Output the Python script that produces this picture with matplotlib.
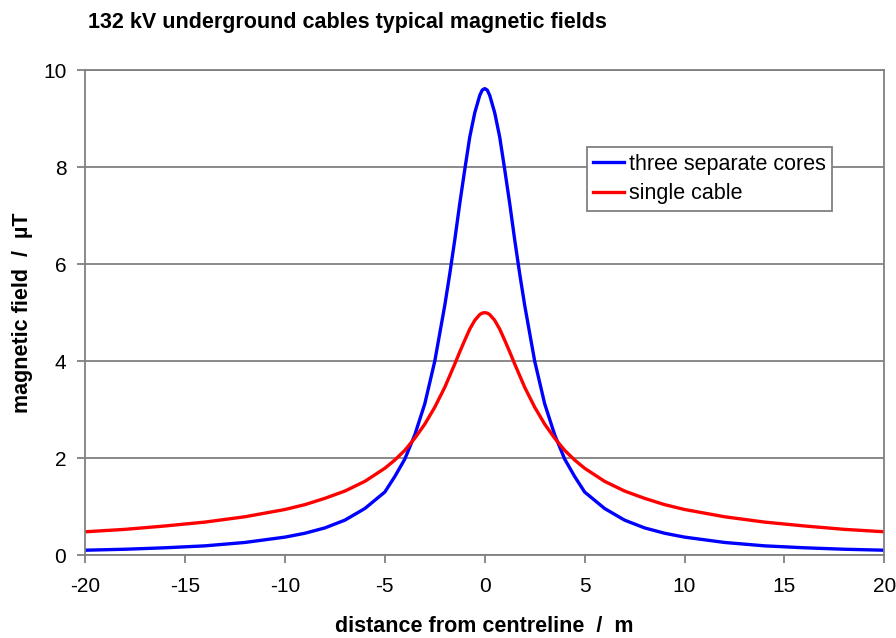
import numpy as np
import matplotlib
matplotlib.use('Agg')
import matplotlib.pyplot as plt

plt.rcParams['font.family'] = ['Liberation Sans', 'DejaVu Sans']
plt.rcParams['axes.unicode_minus'] = False

# distance from centreline (m)
distance = [-20, -18, -16, -14, -12, -10, -9, -8, -7, -6, -5, -4.5, -4, -3.5, -3,
            -2.5, -2, -1.75, -1.5, -1.25, -1, -0.75, -0.5, -0.25, -0.125, 0,
            0.125, 0.25, 0.5, 0.75, 1, 1.25, 1.5, 1.75, 2, 2.5, 3, 3.5, 4, 4.5, 5,
            6, 7, 8, 9, 10, 12, 14, 16, 18, 20]

# three separate cores (uT)
three_cores = [0.10, 0.12, 0.15, 0.19, 0.26, 0.37, 0.45, 0.56, 0.72, 0.96, 1.30, 1.62,
               1.98, 2.48, 3.12, 4.00, 5.15, 5.80, 6.50, 7.25, 7.95, 8.62, 9.12, 9.48, 9.59, 9.62,
               9.59, 9.48, 9.12, 8.62, 7.95, 7.25, 6.50, 5.80, 5.15, 4.00, 3.12, 2.48, 1.98, 1.62,
               1.30, 0.96, 0.72, 0.56, 0.45, 0.37, 0.26, 0.19, 0.15, 0.12, 0.10]

# single cable (uT)
single_cable = [0.48, 0.53, 0.60, 0.68, 0.79, 0.94, 1.04, 1.17, 1.32, 1.52, 1.79, 1.96,
                2.16, 2.41, 2.70, 3.05, 3.46, 3.70, 3.94, 4.19, 4.43, 4.66, 4.84, 4.96, 4.99, 5.00,
                4.99, 4.96, 4.84, 4.66, 4.43, 4.19, 3.94, 3.70, 3.46, 3.05, 2.70, 2.41, 2.16, 1.96,
                1.79, 1.52, 1.32, 1.17, 1.04, 0.94, 0.79, 0.68, 0.60, 0.53, 0.48]

fig = plt.figure(figsize=(8.96, 6.38), dpi=100)
ax = fig.add_axes([0.095, 0.130, 0.892, 0.760])

ax.plot(distance, three_cores, color='#0000ff', lw=2.4, label='three separate cores')
ax.plot(distance, single_cable, color='#ff0000', lw=2.4, label='single cable')

ax.set_xlim(-20, 20)
ax.set_ylim(0, 10)
ax.set_xticks(np.arange(-20, 21, 5))
ax.set_yticks(np.arange(0, 11, 2))
ax.yaxis.grid(True, color='#808080', lw=1.3)
ax.set_axisbelow(True)
for s in ax.spines.values():
    s.set_color('#808080')
    s.set_linewidth(1.3)
ax.tick_params(direction='out', length=5.5, color='#808080', width=1.3, labelsize=15)
ax.tick_params(axis='x', pad=10)
ax.tick_params(axis='y', pad=8)

ax.set_xlabel('distance from centreline  /  m', fontsize=15.5, fontweight='bold')
ax.set_ylabel('magnetic field  /  µT', fontsize=15.5, fontweight='bold')
ax.xaxis.set_label_coords(0.5, -0.125)
ax.yaxis.set_label_coords(-0.065, 0.5)
fig.text(0.098, 0.956, '132 kV underground cables typical magnetic fields',
         fontsize=15.5, fontweight='bold', va='baseline')

leg = ax.legend(loc='upper left', bbox_to_anchor=(0.628, 0.841), borderaxespad=0,
                fontsize=15.5, frameon=True, fancybox=False, edgecolor='#808080',
                framealpha=1, handlelength=1.4, handletextpad=0.25, borderpad=0.3,
                labelspacing=0.4)
leg.get_frame().set_linewidth(1.3)

fig.savefig('out.png', dpi=100)
